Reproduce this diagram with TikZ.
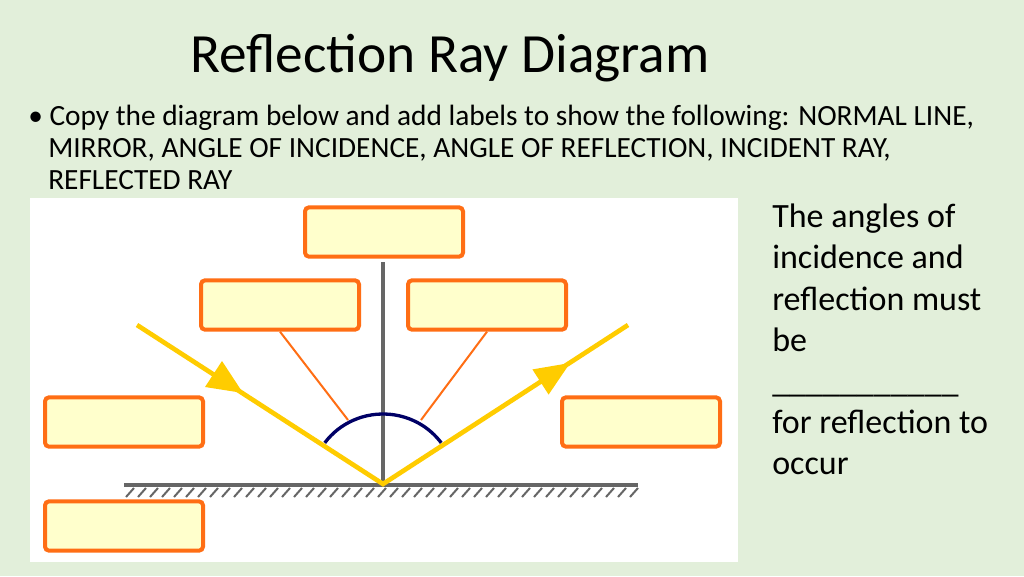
\documentclass[tikz,border=0pt]{standalone}
\usepackage{fontspec}
\setmainfont{Carlito}
\definecolor{bg}{RGB}{226,239,218}
\definecolor{ryel}{RGB}{255,204,0}
\definecolor{bor}{RGB}{255,110,20}
\definecolor{bfill}{RGB}{255,255,204}
\begin{document}
\begin{tikzpicture}[x=0.75pt,y=-0.75pt,
  lbl/.style={draw=bor,line width=3pt,fill=bfill,rounded corners=3pt,inner sep=0pt,minimum width=118.5pt,minimum height=37pt},
  ray/.style={draw=ryel,line width=3.5pt},
  ptr/.style={draw=bor,line width=1.5pt}]
\fill[bg] (0,0) rectangle (1024,576);
\fill[white] (30,198) rectangle (738,562);
\useasboundingbox (0,0) rectangle (1024,576);
\node[font=\fontsize{41.5}{46}\selectfont] (title) at (450,58) {Reflection Ray Diagram};
\node[anchor=north west,align=left,inner sep=0pt,font=\fontsize{22}{24}\selectfont] (bul) at (28,105) {%
 \textbullet\hspace{5pt}Copy the diagram below and add labels to show the following: NORMAL LINE,\\
 \hspace*{15pt}MIRROR, ANGLE OF INCIDENCE, ANGLE OF REFLECTION, INCIDENT RAY,\\
 \hspace*{15pt}REFLECTED RAY};
\node[anchor=north west,align=left,inner sep=0pt,font=\fontsize{25.5}{30.8}\selectfont] (side) at (772,204) {%
 The angles of\\ incidence and\\ reflection must\\ be\\ \_\_\_\_\_\_\_\_\_\_\_\\ for reflection to\\ occur};
% mirror
\coordinate (ml) at (124,485); \coordinate (mr) at (638,485);
\draw[gray!80!black,line width=2.5pt] (ml) -- (mr);
\foreach \x in {126,138,...,630} \draw[gray!80!black,line width=1.5pt] (\x,497) -- (\x+8,488);
% normal
\coordinate (P) at (383,484); \coordinate (ntop) at (383,262);
\draw[gray!80!black,line width=2.5pt] (P) -- (ntop);
% arc
\draw[blue!40!black,line width=2.5pt] (P) ++(216:72 and 70) arc[start angle=216,end angle=324,x radius=72,y radius=70];
% rays
\coordinate (A) at (137,325); \coordinate (B) at (628,325);
\draw[ray] (A) -- (P) -- (B);
\fill[ryel] (243,393) -- (205,387) -- (222,361) -- cycle;
\fill[ryel] (570,363) -- (548.6,394.6) -- (532.4,369.4) -- cycle;
% boxes
\node[lbl] (b1) at (384,232) {};
\node[lbl] (b2) at (280,305) {};
\node[lbl] (b3) at (487,305) {};
\node[lbl] (b4) at (124,422) {};
\node[lbl] (b5) at (641,422) {};
\node[lbl] (b6) at (124,526) {};
\coordinate (e2) at (348,420); \coordinate (e3) at (421,420);
\draw[ptr] (b2.south) -- (e2);
\draw[ptr] (b3.south) -- (e3);
\end{tikzpicture}
\end{document}
